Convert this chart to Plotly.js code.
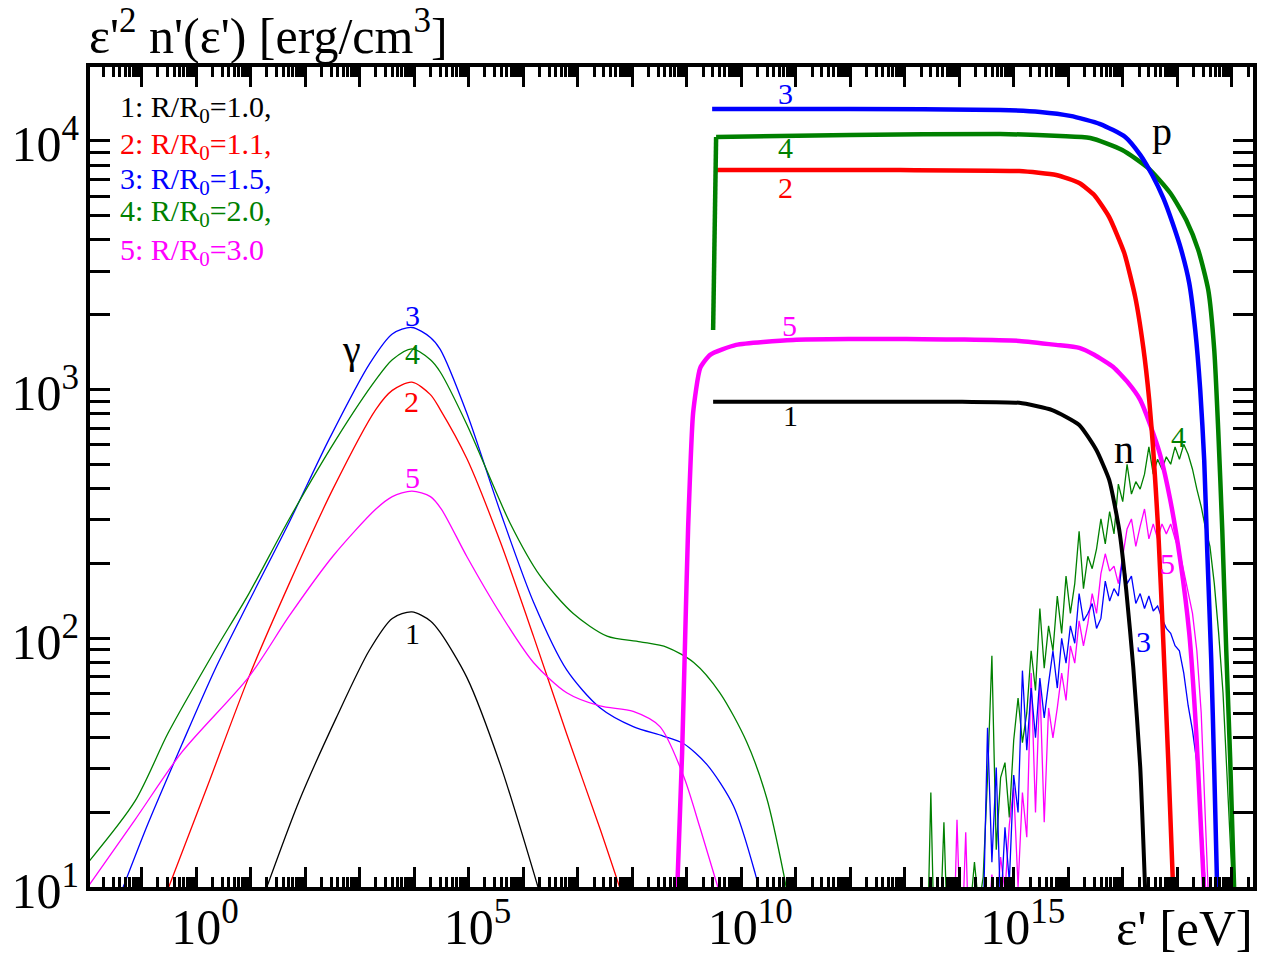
<!DOCTYPE html>
<html><head><meta charset="utf-8">
<script src="https://cdn.plot.ly/plotly-3.0.1.min.js"></script>
<style>html,body{margin:0;padding:0;background:#fff}#chart{width:1273px;height:955px}</style>
</head><body><div id="chart"></div>
<script>
// ---- data: log10(energy / eV) and log10(value / erg cm^-3) ----
// photon (gamma) spectra, thin lines
const g1_logE = [1.30, 1.89, 2.57, 3.18, 3.60, 3.96, 4.30, 4.48, 4.97, 5.58, 6.30];
const g1_logV = [1.00, 1.345, 1.679, 1.952, 2.08, 2.106, 2.07, 2.024, 1.842, 1.493, 0.98];
const g2_logE = [-0.50, 0.20, 0.97, 1.71, 2.51, 3.30, 3.60, 3.96, 4.30, 4.48, 4.97, 5.58, 6.19, 6.80, 7.41, 7.80];
const g2_logV = [1.00, 1.40, 1.845, 2.22, 2.60, 2.921, 2.997, 3.03, 2.98, 2.92, 2.722, 2.389, 2.009, 1.615, 1.235, 0.98];
const g3_logE = [-1.37, -0.88, -0.26, 0.35, 0.97, 1.71, 2.44, 3.18, 3.60, 3.96, 4.30, 4.48, 4.97, 5.58, 6.19, 6.80, 7.41, 8.02, 8.57, 8.94, 9.37, 9.86, 10.26, 10.34];
const g3_logV = [0.98, 1.255, 1.573, 1.876, 2.148, 2.467, 2.80, 3.103, 3.224, 3.25, 3.21, 3.162, 2.904, 2.51, 2.146, 1.873, 1.721, 1.645, 1.607, 1.577, 1.493, 1.326, 1.053, 0.98];
const g4_logE = [-2.05, -1.12, -0.51, 0.29, 0.97, 1.71, 2.57, 3.30, 3.60, 3.96, 4.30, 4.48, 4.97, 5.76, 6.31, 6.92, 7.54, 8.15, 8.64, 9.13, 9.61, 10.10, 10.47, 10.78, 10.84];
const g4_logV = [1.08, 1.345, 1.62, 1.93, 2.18, 2.48, 2.80, 3.04, 3.12, 3.164, 3.12, 3.071, 2.859, 2.464, 2.252, 2.10, 2.009, 1.986, 1.964, 1.903, 1.781, 1.584, 1.357, 1.053, 0.98];
const g5_logE = [-2.05, -1.12, -0.26, 0.97, 1.71, 2.51, 3.30, 3.60, 3.96, 4.30, 4.50, 4.97, 5.58, 6.19, 6.80, 7.41, 8.02, 8.51, 8.94, 9.25, 9.60];
const g5_logV = [0.98, 1.27, 1.542, 1.845, 2.09, 2.33, 2.52, 2.57, 2.592, 2.57, 2.52, 2.328, 2.10, 1.903, 1.781, 1.728, 1.706, 1.645, 1.448, 1.235, 0.98];

// neutron spectra, thin noisy lines
const n3_logE = [14.36,14.44,14.52,14.60,14.68,14.76,14.84,14.92,15.00,15.08,15.16,15.24,15.32,15.40,15.48,15.56,15.64,15.72,15.80,15.88,15.96,16.04,16.12,16.20,16.28,16.36,16.44,16.52,16.60,16.68,16.76,16.84,16.92,17.00,17.08,17.16,17.24,17.32,17.40,17.48,17.56,17.64,17.72,17.80,17.88,17.96,18.04,18.12,18.20,18.28,18.36,18.44,18.52,18.60];
const n3_logV = [0.60,0.85,1.64,1.10,1.48,0.90,1.24,1.02,1.45,1.30,1.87,1.55,1.80,1.60,1.84,1.68,1.82,1.95,1.80,2.00,1.90,2.05,1.98,2.18,2.07,2.10,2.14,2.04,2.08,2.23,2.15,2.20,2.17,2.33,2.22,2.25,2.14,2.18,2.12,2.17,2.11,2.13,2.08,2.04,2.02,1.97,1.95,1.86,1.73,1.63,1.50,1.28,0.98,0.70];
const n4_logE = [13.40,13.48,13.56,13.64,13.72,13.80,13.88,13.96,14.04,14.12,14.20,14.28,14.36,14.44,14.52,14.60,14.68,14.76,14.84,14.92,15.00,15.08,15.16,15.24,15.32,15.40,15.48,15.56,15.64,15.72,15.80,15.88,15.96,16.04,16.12,16.20,16.28,16.36,16.44,16.52,16.60,16.68,16.76,16.84,16.92,17.00,17.08,17.16,17.24,17.32,17.40,17.48,17.56,17.64,17.72,17.80,17.88,17.96,18.04,18.12,18.20,18.28,18.36,18.44,18.52,18.60,18.68,18.76,18.84,18.92,19.00,19.08];
const n4_logV = [0.60,1.38,0.60,0.75,1.26,0.70,0.65,0.85,0.75,0.95,0.90,1.10,0.92,1.04,1.44,1.93,1.15,1.44,1.50,1.28,1.59,1.76,1.58,1.70,1.95,1.79,2.12,1.88,2.05,1.95,2.17,2.02,2.25,2.10,2.22,2.43,2.20,2.33,2.28,2.36,2.48,2.38,2.51,2.42,2.62,2.55,2.70,2.58,2.63,2.60,2.66,2.77,2.66,2.72,2.68,2.73,2.70,2.77,2.72,2.78,2.74,2.68,2.60,2.53,2.44,2.37,2.22,2.02,1.78,1.45,1.08,0.70];
const n5_logE = [13.88,13.96,14.04,14.12,14.20,14.28,14.36,14.44,14.52,14.60,14.68,14.76,14.84,14.92,15.00,15.08,15.16,15.24,15.32,15.40,15.48,15.56,15.64,15.72,15.80,15.88,15.96,16.04,16.12,16.20,16.28,16.36,16.44,16.52,16.60,16.68,16.76,16.84,16.92,17.00,17.08,17.16,17.24,17.32,17.40,17.48,17.56,17.64,17.72,17.80,17.88,17.96,18.04,18.12,18.20,18.28,18.36,18.44,18.52,18.60];
const n5_logV = [0.60,1.27,0.70,1.22,0.60,0.80,0.70,0.90,0.80,1.05,0.88,1.12,0.98,1.25,1.40,1.00,1.38,1.20,1.86,1.30,1.82,1.26,1.72,1.60,1.72,1.86,1.75,1.97,1.90,2.07,1.97,2.06,2.18,2.10,2.26,2.34,2.27,2.29,2.22,2.33,2.44,2.48,2.37,2.45,2.52,2.40,2.46,2.40,2.46,2.42,2.46,2.40,2.35,2.27,2.18,2.10,1.95,1.70,1.25,0.80];

// proton spectra, thick lines
const p1_logE = [9.486, 14.055, 15.101, 15.706, 16.202, 16.514, 16.752, 16.936, 17.064, 17.193, 17.321, 17.413];
const p1_logV = [2.951, 2.951, 2.947, 2.918, 2.858, 2.758, 2.637, 2.436, 2.195, 1.885, 1.483, 0.98];
const p2_logE = [9.541, 12.917, 15.101, 15.780, 16.202, 16.477, 16.752, 17.028, 17.229, 17.376, 17.486, 17.560, 17.651, 17.743, 17.835, 17.927];
const p2_logV = [3.883, 3.883, 3.879, 3.863, 3.831, 3.783, 3.694, 3.550, 3.373, 3.172, 2.959, 2.758, 2.436, 1.994, 1.511, 0.98];
const p3_logE = [9.468, 12.0, 14.752, 15.486, 16.037, 16.587, 17.046, 17.321, 17.541, 17.743, 17.908, 18.073, 18.220, 18.330, 18.422, 18.495, 18.550, 18.624, 18.679, 18.734];
const p3_logV = [4.129, 4.129, 4.125, 4.117, 4.101, 4.068, 4.016, 3.944, 3.863, 3.771, 3.674, 3.562, 3.429, 3.240, 2.999, 2.717, 2.355, 1.913, 1.471, 0.98];
const p4_rise_logE = [9.486, 9.541];
const p4_rise_logV = [3.240, 4.016];
const p4_logE = [9.541, 12.0, 14.752, 15.853, 16.404, 16.991, 17.468, 17.872, 18.165, 18.385, 18.569, 18.679, 18.752, 18.826, 18.899, 18.972, 19.046];
const p4_logV = [4.016, 4.024, 4.028, 4.020, 4.012, 3.964, 3.891, 3.791, 3.682, 3.562, 3.401, 3.160, 2.838, 2.436, 1.953, 1.511, 0.98];
const p5_logE = [8.826, 8.917, 8.972, 9.028, 9.119, 9.248, 9.431, 9.908, 10.954, 13.028, 15.101, 15.780, 16.202, 16.477, 16.826, 17.101, 17.321, 17.505, 17.688, 17.872, 18.055, 18.220, 18.349, 18.440, 18.495];
const p5_logV = [0.98, 1.539, 1.994, 2.448, 2.906, 3.087, 3.140, 3.180, 3.200, 3.204, 3.196, 3.180, 3.168, 3.140, 3.091, 3.027, 2.959, 2.858, 2.737, 2.557, 2.315, 2.022, 1.620, 1.218, 0.98];

// labels
const legendIds = ['1', '2', '3', '4', '5'];
const legendRatios = ['1.0', '1.1', '1.5', '2.0', '3.0'];
const xTickExps = [0, 5, 10, 15];
const yTickExps = [1, 2, 3, 4];

// ---- styling ----
const FONT = 'Liberation Serif, "Times New Roman", serif';
const COL = {'1': '#000000', '2': '#ff0000', '3': '#0000ff', '4': '#008000', '5': '#ff00ff'};
const p10 = v => Math.pow(10, v);

function tr(logE, logV, color, width, shape, smoothing) {
  return {type: 'scatter', mode: 'lines', x: logE.map(p10), y: logV.map(p10),
    line: {color: color, width: width, shape: shape || 'linear', smoothing: smoothing || 0.8},
    hoverinfo: 'skip', showlegend: false};
}

const data = [
  tr(g1_logE, g1_logV, COL['1'], 1.3, 'spline'),
  tr(g2_logE, g2_logV, COL['2'], 1.3, 'spline'),
  tr(g3_logE, g3_logV, COL['3'], 1.3, 'spline'),
  tr(g4_logE, g4_logV, COL['4'], 1.3, 'spline'),
  tr(g5_logE, g5_logV, COL['5'], 1.3, 'spline'),
  tr(n4_logE, n4_logV, COL['4'], 1.3),
  tr(n5_logE, n5_logV, COL['5'], 1.3),
  tr(n3_logE, n3_logV, COL['3'], 1.3),
  tr(p5_logE, p5_logV, COL['5'], 4.5, 'spline', 0.5),
  tr(p1_logE, p1_logV, COL['1'], 4, 'spline', 0.5),
  tr(p2_logE, p2_logV, COL['2'], 4.5, 'spline', 0.5),
  tr(p4_rise_logE, p4_rise_logV, COL['4'], 4.5),
  tr(p4_logE, p4_logV, COL['4'], 4.5, 'spline', 0.6),
  tr(p3_logE, p3_logV, COL['3'], 4.5, 'spline', 0.6),
];
// empty trace that carries the overlay axis with the unlabeled decade ticks
data.push({type: 'scatter', mode: 'lines', x: [1], y: [null], xaxis: 'x2', yaxis: 'y', hoverinfo: 'skip', showlegend: false});

// ticks
const xLabVals = [], xLabText = [], xDecades = [], xMinor = [];
for (let k = -2; k <= 19; k++) {
  if (k >= -1) xDecades.push(p10(k));
  if (xTickExps.includes(k)) { xLabVals.push(p10(k)); xLabText.push('10<sup>' + k + '</sup>'); }
  for (let d = 2; d <= 9; d++) xMinor.push(d * p10(k));
}
const yLabVals = [], yLabText = [], yMinor = [];
for (let k = 1; k <= 4; k++) {
  if (yTickExps.includes(k)) { yLabVals.push(p10(k)); yLabText.push('10<sup>' + k + '</sup>'); }
  for (let d = 2; d <= 9; d++) yMinor.push(d * p10(k));
}

function axisBase() {
  return {type: 'log', showgrid: false, zeroline: false, showline: true, linewidth: 4, linecolor: '#000',
    mirror: 'allticks', ticks: 'inside', ticklen: 20, tickwidth: 3, tickcolor: '#000',
    tickmode: 'array', tickfont: {family: FONT, size: 50, color: '#000'},
    minor: {tickmode: 'array', ticks: 'inside', ticklen: 10, tickwidth: 3, tickcolor: '#000', showgrid: false}};
}
const XRANGE = [-1.945, 19.39];
const xaxis = axisBase();
xaxis.range = XRANGE; xaxis.tickvals = xLabVals; xaxis.ticktext = xLabText; xaxis.minor.tickvals = xMinor;
xaxis.ticklabelstandoff = -7; xaxis.ticklabelshift = 9;
const xaxis2 = {type: 'log', overlaying: 'x', anchor: 'y', side: 'bottom', range: XRANGE,
  showgrid: false, zeroline: false, showline: true, linewidth: 4, linecolor: '#000', mirror: 'allticks',
  ticks: 'inside', ticklen: 20, tickwidth: 3, tickcolor: '#000', tickmode: 'array', tickvals: xDecades,
  showticklabels: false};
const yaxis = axisBase();
yaxis.range = [1, 4.2975]; yaxis.tickvals = yLabVals; yaxis.ticktext = yLabText; yaxis.minor.tickvals = yMinor;
yaxis.ticklabelstandoff = -3; yaxis.ticklabelshift = 3;

// annotations
const ann = [];
function txt(x, y, text, color, size, xref, yref, xanchor) {
  ann.push({x: x, y: y, xref: xref || 'x', yref: yref || 'y', text: text, showarrow: false,
    xanchor: xanchor || 'center', yanchor: 'middle', font: {family: FONT, size: size, color: color}});
}
// axis titles
txt(-0.003, 1.0425, "ε'<sup>2</sup> n'(ε') [erg/cm<sup>3</sup>]", '#000', 50, 'paper', 'paper', 'left');
txt(1.002, -0.05, "ε' [eV]", '#000', 51, 'paper', 'paper', 'right');
// legend block
const legY = [0.9488, 0.9037, 0.8610, 0.8220, 0.7744];
legendIds.forEach((id, i) => {
  txt(0.0241, legY[i], id + ': R/R<sub>0</sub>=' + legendRatios[i] + (i < 4 ? ',' : ''), COL[id], 30, 'paper', 'paper', 'left');
});
// curve labels (x in log10 units on log axes)
const L = (lx, ly, t, c, s) => txt(lx, ly, t, c, s || 30);
L(3.98, 3.30, '3', COL['3']); L(3.98, 3.145, '4', COL['4']); L(3.96, 2.952, '2', COL['2']);
L(3.98, 2.646, '5', COL['5']); L(3.98, 2.02, '1', COL['1']);
L(10.81, 4.19, '3', COL['3']); L(10.81, 3.975, '4', COL['4']); L(10.81, 3.812, '2', COL['2']);
L(10.88, 3.26, '5', COL['5']); L(10.90, 2.895, '1', COL['1']);
L(18.02, 2.81, '4', COL['4']); L(17.82, 2.30, '5', COL['5']); L(17.38, 1.987, '3', COL['3']);
L(2.86, 3.16, 'γ', '#000', 40); L(17.72, 4.04, 'p', '#000', 40); L(17.03, 2.76, 'n', '#000', 40);

const layout = {
  width: 1273, height: 955, margin: {l: 90, r: 20, t: 67, b: 68},
  paper_bgcolor: '#ffffff', plot_bgcolor: '#ffffff', showlegend: false,
  xaxis: xaxis, xaxis2: xaxis2, yaxis: yaxis, annotations: ann,
};
Plotly.newPlot('chart', data, layout, {staticPlot: true, displayModeBar: false});
</script>
</body></html>
